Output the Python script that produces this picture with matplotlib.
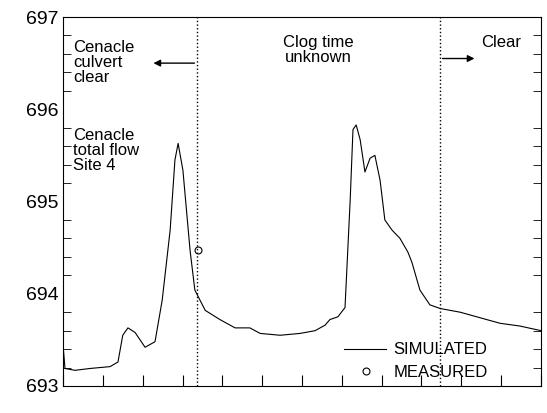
import matplotlib
matplotlib.use("Agg")
import matplotlib.pyplot as plt
from matplotlib.ticker import MultipleLocator
plt.rcParams['font.family'] = ['Liberation Sans', 'DejaVu Sans']

sim_x = [0, .05, .3, .68, 1.18, 1.38, 1.5, 1.63, 1.81, 2.06, 2.31, 2.49, 2.69, 2.81, 2.89, 3.01, 3.19, 3.31, 3.57,
         3.94, 4.32, 4.69, 4.95, 5.45, 5.95, 6.33, 6.58, 6.70, 6.90, 7.08, 7.21, 7.28, 7.36, 7.46, 7.58, 7.71, 7.83,
         7.96, 8.08, 8.26, 8.46, 8.66, 8.76, 8.96, 9.21, 9.47, 9.97, 10.47, 10.97, 11.47, 12]
sim_y = [693.45, 693.19, 693.17, 693.19, 693.21, 693.26, 693.55, 693.63, 693.58, 693.42, 693.48, 693.93, 694.69, 695.45,
         695.63, 695.34, 694.47, 694.04, 693.82, 693.72, 693.63, 693.63, 693.57, 693.55, 693.57, 693.60, 693.66, 693.72,
         693.75, 693.85, 695.02, 695.78, 695.83, 695.67, 695.32, 695.47, 695.5, 695.23, 694.8, 694.69, 694.60, 694.45,
         694.34, 694.04, 693.88, 693.84, 693.80, 693.74, 693.68, 693.65, 693.60]
meas_x = [3.39]
meas_y = [694.47]
dotted_x = [3.37, 9.46]

fig = plt.figure(figsize=(5.47, 4.13), dpi=100)
ax = fig.add_axes([63/547, 1-386/413, (541-63)/547, (386-17)/413])
ax.plot(sim_x, sim_y, color='black', lw=0.8)
ax.plot(meas_x, meas_y, 'o', mfc='white', mec='black', ms=5, mew=0.8)
for d in dotted_x:
    ax.axvline(d, color='black', ls=':', lw=1)
ax.set_xlim(0, 12)
ax.set_ylim(693, 697)
ax.xaxis.set_major_locator(MultipleLocator(1))
ax.yaxis.set_major_locator(MultipleLocator(1))
ax.yaxis.set_minor_locator(MultipleLocator(0.2))
ax.set_xticklabels([])
ax.tick_params(direction='in', which='both', top=False, right=True, labelsize=14, length=8)
ax.tick_params(axis='y', which='minor', length=6)
ax.tick_params(axis='x', length=8)
ax.tick_params(axis='y', which='major', length=0)
fs = 12
ax.text(0.25, 696.75, "Cenacle\nculvert\nclear", fontsize=fs, va='top', linespacing=1.0)
ax.text(0.25, 695.8, "Cenacle\ntotal flow\nSite 4", fontsize=fs, va='top', linespacing=1.0)
ax.text(6.4, 696.8, "Clog time\nunknown", fontsize=fs, va='top', ha='center', linespacing=1.0)
ax.text(10.5, 696.8, "Clear", fontsize=fs, va='top')
ax.annotate("", xy=(2.2, 696.5), xytext=(3.37, 696.5), arrowprops=dict(arrowstyle='-|>', color='black', lw=1))
ax.annotate("", xy=(10.4, 696.55), xytext=(9.46, 696.55), arrowprops=dict(arrowstyle='-|>', color='black', lw=1))
ax.plot([7.05, 8.1], [693.4, 693.4], color='black', lw=0.8)
ax.text(8.3, 693.4, "SIMULATED", fontsize=fs, va='center')
ax.plot([7.6], [693.16], 'o', mfc='white', mec='black', ms=5, mew=0.8)
ax.text(8.3, 693.15, "MEASURED", fontsize=fs, va='center')
fig.savefig("out.png")
